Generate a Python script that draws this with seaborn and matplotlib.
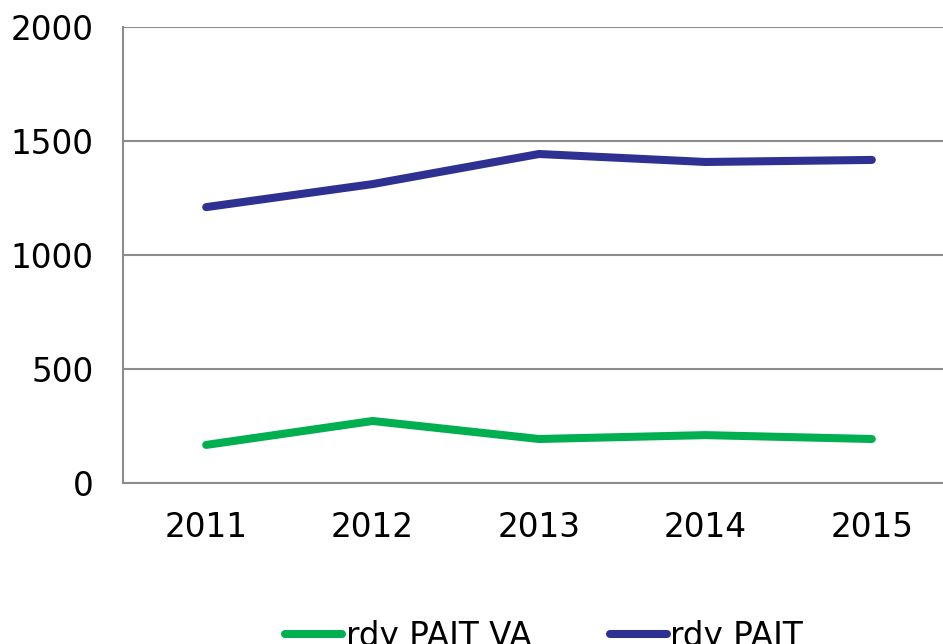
import matplotlib
matplotlib.use("Agg")
import matplotlib.pyplot as plt
import seaborn as sns
import pandas as pd
from matplotlib.lines import Line2D

years = ["2011", "2012", "2013", "2014", "2015"]
rdy_pait_va = [167, 272, 193, 210, 193]
rdy_pait = [1210, 1311, 1443, 1408, 1417]
series_names = ["rdy PAIT VA", "rdy PAIT"]
colors = ["#00B050", "#2E3192"]

df = pd.DataFrame({
    "year": years * 2,
    "value": rdy_pait_va + rdy_pait,
    "series": [series_names[0]] * len(years) + [series_names[1]] * len(years),
})

sns.set_theme(style="white")
plt.rcParams["font.family"] = ["DejaVu Sans"]
plt.rcParams["text.color"] = "black"

fig = plt.figure(figsize=(9.43, 6.44), dpi=100)
ax = fig.add_axes([123 / 943, 1 - 483 / 644, (955 - 123) / 943, (483 - 27) / 644])

sns.lineplot(data=df, x="year", y="value", hue="series", palette=colors,
             linewidth=5.8, ax=ax, sort=False, legend=False,
             solid_capstyle="round")

ax.set_xlim(-0.5, 4.5)
ax.set_ylim(0, 2000)
ax.set_yticks([0, 500, 1000, 1500, 2000])
ax.set_xticks(range(len(years)))
ax.set_xticklabels(years)
ax.set_xlabel("")
ax.set_ylabel("")
ax.yaxis.grid(True, color="#8C8C8C", linewidth=1.5)
ax.set_axisbelow(True)
for s in ["top", "right"]:
    ax.spines[s].set_visible(False)
for s in ["left", "bottom"]:
    ax.spines[s].set_color("#8C8C8C")
    ax.spines[s].set_linewidth(1.5)
ax.tick_params(axis="both", length=0, labelsize=23.5, labelcolor="black")
ax.tick_params(axis="y", pad=21)
ax.tick_params(axis="x", pad=20)

handles = [Line2D([], [], color=c, linewidth=5.8, solid_capstyle="round") for c in colors]
leg = fig.legend(handles, series_names, loc="center", bbox_to_anchor=(0.577, 0.012),
                 ncol=2, frameon=False, fontsize=23.5, handlelength=1.75,
                 handletextpad=0.1, columnspacing=2.4)
for t in leg.get_texts():
    t.set_color("black")

fig.savefig("out.png", dpi=100)
